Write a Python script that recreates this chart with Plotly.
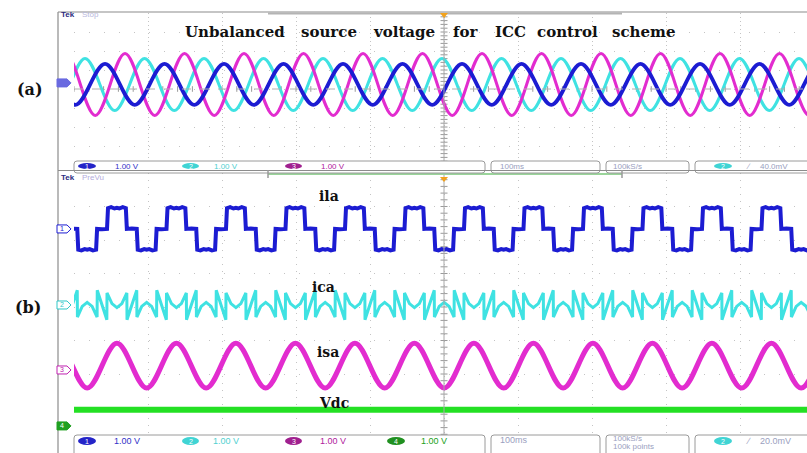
import plotly.graph_objects as go

W, H = 807, 453
GX0 = 74                      # left edge of the graticule (px)
PW = W - GX0                  # plot area width (px)

# ---------------- data ----------------
MS_PER_DIV = 100
X_RANGE_MS = [0, 990.5]       # the screenshot is cut just before the 10th division
PERIOD_MS = 80.4              # one fundamental cycle (59.5 px)
# start of each positive plateau of ila (cycle reference), ms
cycle_start_ms = [-116.2, -35.8, 44.6, 125.0, 205.4, 285.8, 366.2, 446.6,
                  527.0, 607.4, 687.8, 768.2, 848.6, 929.0, 1009.4, 1089.8]

# (a) unbalanced source voltages, 1.00 V/div (cyan, blue, magenta)
src_peak_deg = [227, -12, 109]
src_amp_div = [1.37, 1.08, 1.63]
src_offset_div = [0.24, 0.24, 0.24]

# (b) ila (ch1): one cycle of the stepped load current
ila_offset_div = 2.33
ila_deg = [0, 6, 25, 45, 60, 75, 95, 114, 120, 150, 180, 186, 205, 225, 240, 255, 275, 294, 300, 330]
ila_div = [0, 0.62, 0.65, 0.61, 0.63, 0.61, 0.65, 0.62, 0, 0.01, 0, -0.62, -0.64, -0.60, -0.62, -0.60, -0.64, -0.62, 0, -0.01]

# ica (ch2): one cycle of the compensating current
ica_offset_div = 0.06
ica_deg = [0, 30, 60, 90, 120, 121, 150, 180, 181, 210, 240, 270, 300, 301, 330, 359]
ica_div = [0.36, 0.04, -0.08, 0.04, 0.36, -0.44, 0.0, 0.44, -0.36, -0.04, 0.08, -0.04, -0.36, 0.44, 0.0, -0.44]

# isa (ch3): sinusoidal source current
isa_peak_deg = 60
isa_amp_div = 0.67
isa_offset_div = -1.75

# Vdc (ch4)
vdc_div = -3.07

# channel ground markers (div)
ch_marker_div = [2.33, 0.06, -1.88, -3.55]
top_marker_div = 0.32

# ---------------- geometry helpers ----------------
TOP_PX = (13, 165)            # panel (a) graticule, px
BOT_PX = (173, 441)           # panel (b) graticule, px


def X(x):
    return (x - GX0) / PW


def Y(y):
    return 1 - y / H


def bot_px(div):
    c = (BOT_PX[0] + BOT_PX[1]) / 2
    return c - div * (BOT_PX[1] - BOT_PX[0]) / 8


def top_px(div):
    c = (TOP_PX[0] + TOP_PX[1]) / 2
    return c - div * (TOP_PX[1] - TOP_PX[0]) / 8


def sine_extremes(peak_deg, amp, offset):
    pts = []
    for c in cycle_start_ms:
        tp = c + peak_deg / 360 * PERIOD_MS
        pts.append((tp, offset + amp))
        pts.append((tp + PERIOD_MS / 2, offset - amp))
    pts.sort()
    return [p[0] for p in pts], [p[1] for p in pts]


def tiled(pdeg, pval, offset):
    xs, ys = [], []
    for c in cycle_start_ms:
        for d, v in zip(pdeg, pval):
            xs.append(c + d / 360 * PERIOD_MS)
            ys.append(offset + v)
    return xs, ys


BLUE = "#1c1cd2"
CYAN = "#3fe2e2"
MAG = "#e22ccf"
GREEN = "#24e024"
GRID = "#c4c4c4"
FRAME = "#8c8c8c"

fig = go.Figure()

# centre-cross tick marks
tick_y = [i / 5 for i in range(-20, 21)]
tick_x = [i * 20 for i in range(0, 50)]
for xa, ya in (("x", "y"), ("x2", "y2")):
    fig.add_trace(go.Scatter(x=[500] * len(tick_y), y=tick_y, mode="markers", xaxis=xa, yaxis=ya,
                             marker=dict(symbol="line-ew", size=5, line=dict(width=1, color="#9a9a9a")),
                             hoverinfo="skip", showlegend=False))
fig.add_trace(go.Scatter(x=tick_x, y=[0] * len(tick_x), mode="markers", xaxis="x", yaxis="y",
                         marker=dict(symbol="line-ns", size=4, line=dict(width=1, color="#9a9a9a")),
                         hoverinfo="skip", showlegend=False))

# (a) source voltages
for k, col, wd in ((0, CYAN, 3), (2, MAG, 3), (1, BLUE, 3.8)):
    xs, ys = sine_extremes(src_peak_deg[k], src_amp_div[k], src_offset_div[k])
    fig.add_trace(go.Scatter(x=xs, y=ys, mode="lines", xaxis="x", yaxis="y",
                             line=dict(color=col, width=wd, shape="spline", smoothing=1),
                             hoverinfo="skip", showlegend=False))

# (b) ila
xs, ys = tiled(ila_deg, ila_div, ila_offset_div)
fig.add_trace(go.Scatter(x=xs, y=ys, mode="lines", xaxis="x2", yaxis="y2",
                         line=dict(color=BLUE, width=4), hoverinfo="skip", showlegend=False))
# ica
xs, ys = tiled(ica_deg, ica_div, ica_offset_div)
fig.add_trace(go.Scatter(x=xs, y=ys, mode="lines", xaxis="x2", yaxis="y2",
                         line=dict(color=CYAN, width=3), hoverinfo="skip", showlegend=False))
# isa
xs, ys = sine_extremes(isa_peak_deg, isa_amp_div, isa_offset_div)
fig.add_trace(go.Scatter(x=xs, y=ys, mode="lines", xaxis="x2", yaxis="y2",
                         line=dict(color=MAG, width=5, shape="spline", smoothing=1),
                         hoverinfo="skip", showlegend=False))
# Vdc
fig.add_trace(go.Scatter(x=X_RANGE_MS, y=[vdc_div, vdc_div], mode="lines", xaxis="x2", yaxis="y2",
                         line=dict(color=GREEN, width=6), hoverinfo="skip", showlegend=False))

# ---------------- decorations ----------------
shapes = []
ann = []


def line(x0, y0, x1, y1, color=FRAME, width=1.2, dash="solid"):
    shapes.append(dict(type="line", xref="paper", yref="paper", x0=X(x0), y0=Y(y0), x1=X(x1), y1=Y(y1),
                       line=dict(color=color, width=width, dash=dash)))


def rbox(x0, y0, x1, y1, r=3, color="#9a9a9a", fill="white"):
    p = (f"M {X(x0 + r)},{Y(y0)} L {X(x1 - r)},{Y(y0)} Q {X(x1)},{Y(y0)} {X(x1)},{Y(y0 + r)} "
         f"L {X(x1)},{Y(y1 - r)} Q {X(x1)},{Y(y1)} {X(x1 - r)},{Y(y1)} L {X(x0 + r)},{Y(y1)} "
         f"Q {X(x0)},{Y(y1)} {X(x0)},{Y(y1 - r)} L {X(x0)},{Y(y0 + r)} Q {X(x0)},{Y(y0)} {X(x0 + r)},{Y(y0)} Z")
    shapes.append(dict(type="path", xref="paper", yref="paper", path=p, fillcolor=fill,
                       line=dict(color=color, width=1)))


def text(x, y, s, size=9, color="#9aa0c0", family="Liberation Sans", anchor="left", bold=False):
    if bold:
        s = "<b>" + s + "</b>"
    ann.append(dict(x=X(x), y=Y(y), xref="paper", yref="paper", text=s, showarrow=False,
                    xanchor=anchor, yanchor="middle", font=dict(family=family, size=size, color=color)))


def badge(x0, x1, yc, h, fill, label):
    shapes.append(dict(type="circle", xref="paper", yref="paper", x0=X(x0), x1=X(x1),
                       y0=Y(yc + h / 2), y1=Y(yc - h / 2), fillcolor=fill, line=dict(width=0)))
    text((x0 + x1) / 2, yc, label, size=7, color="white", anchor="center")


def tag(yc, color, label, filled=False):
    p = (f"M {X(57)},{Y(yc - 4)} L {X(67)},{Y(yc - 4)} L {X(71)},{Y(yc)} L {X(67)},{Y(yc + 4)} "
         f"L {X(57)},{Y(yc + 4)} Z")
    shapes.append(dict(type="path", xref="paper", yref="paper", path=p,
                       fillcolor=color if filled else "white", line=dict(color=color, width=1)))
    if label:
        text(62, yc, label, size=7, color="white" if filled else color, anchor="center")


# centre lines
line(444, TOP_PX[0], 444, TOP_PX[1] + 2, color="#a8a8a8", width=1)
line(444, BOT_PX[0], 444, BOT_PX[1], color="#a8a8a8", width=1)
line(GX0, top_px(0), W, top_px(0), color="#b0b0b0", width=1, dash="dash")

# frames
line(58, 12, W, 12)
line(58, 12, 58, H)
# record-view bars
line(268, 13.5, 622, 13.5, color="#b4b4b4", width=2)
line(268, 174, 622, 174, color="#9ad49a", width=2)

# trigger position markers
for yy in (13, 177):
    shapes.append(dict(type="path", xref="paper", yref="paper",
                       path=f"M {X(440)},{Y(yy)} L {X(448)},{Y(yy)} L {X(444)},{Y(yy + 5)} Z",
                       fillcolor="#f2a21c", line=dict(width=0)))

# channel markers
tag(top_px(top_marker_div), "#6a6ae0", "", filled=True)
tag(bot_px(ch_marker_div[0]), BLUE, "1")
tag(bot_px(ch_marker_div[1]), "#30c8c8", "2")
tag(bot_px(ch_marker_div[2]), "#c020b0", "3")
tag(bot_px(ch_marker_div[3]), "#20a020", "4", filled=True)

# status bars
for (yc, h, y0, y1, trig, chs) in ((166, 6, 161, 173, "40.0mV", 3), (441, 8, 435, 458, "20.0mV", 4)):
    rbox(74, y0, 485, y1)
    rbox(491, y0, 600, y1)
    rbox(606, y0, 689, y1)
    rbox(695, y0, 820, y1)
    cfg = [(78, 96, "#2424c8", "#3030c8", 127), (182, 199, "#40d4d4", "#50d0d0", 226),
           (285, 302, "#a0208f", "#b0209c", 333), (387, 405, "#209020", "#20a020", 434)]
    for i in range(chs):
        b0, b1, bf, tc, tx = cfg[i]
        badge(b0, b1, yc, h, bf, str(i + 1))
        text(tx, yc, "1.00 V", size=9 if chs == 4 else 8, color=tc, anchor="center")
    if chs == 4:
        text(498, yc - 1, "100ms")
        text(611, yc - 2.5, "100kS/s", size=8)
        text(611, yc + 5.5, "100k points", size=8)
    else:
        text(498, yc, "100ms", size=8)
        text(611, yc, "100kS/s", size=8)
    badge(714, 732, yc, h, "#40d4d4", "2")
    text(744, yc, "∕", size=9 if chs == 4 else 8)
    text(758, yc, trig, size=9 if chs == 4 else 8)

# frame line between the panels (cuts the top status bar)
line(58, 170.5, W, 170.5)
for xx in (268, 622):
    line(xx, 170, xx, 178, color="#9a9a9a", width=1.5)

# Tek headers
text(59, 14.5, "Tek", size=8, color="#2c2c80", bold=True)
text(80, 14.5, "Stop", size=8, color="#b8b8dc")
text(59, 177, "Tek", size=8, color="#2c2c80", bold=True)
text(80, 177, "PreVu", size=8, color="#b4acdc")

# title, words placed where they sit on the screen
serif = "DejaVu Serif"
for word, xc in (("Unbalanced", 235), ("source", 329), ("voltage", 404), ("for", 465),
                 ("ICC", 510), ("control", 567), ("scheme", 643)):
    text(xc, 32, word, size=15, color="#111111", family=serif, anchor="center", bold=True)

# panel labels
text(30, 89, "(a)", size=16, color="#111111", family=serif, anchor="center", bold=True)
text(28, 307, "(b)", size=16, color="#111111", family=serif, anchor="center", bold=True)

# trace labels
for s, xc, yc in (("ila", 329, 196), ("ica", 323, 287), ("isa", 328, 352), ("Vdc", 334, 403)):
    text(xc, yc, s, size=14, color="#111111", family=serif, anchor="center", bold=True)

axis_common = dict(showticklabels=False, ticks="", zeroline=False, showline=False, showgrid=True,
                   gridcolor=GRID, gridwidth=1, fixedrange=True)
fig.update_layout(
    width=W, height=H,
    margin=dict(l=GX0, r=0, t=0, b=0, pad=0),
    paper_bgcolor="white", plot_bgcolor="white",
    showlegend=False,
    xaxis=dict(domain=[0, 1], range=X_RANGE_MS, anchor="y", dtick=MS_PER_DIV, tick0=0,
               griddash="1px,3px", **axis_common),
    yaxis=dict(domain=[Y(TOP_PX[1]), Y(TOP_PX[0])], range=[-4, 4], anchor="x", dtick=1, tick0=0,
               griddash="1px,14px", **axis_common),
    xaxis2=dict(domain=[0, 1], range=X_RANGE_MS, anchor="y2", dtick=MS_PER_DIV, tick0=0,
                griddash="1px,6px", **axis_common),
    yaxis2=dict(domain=[Y(BOT_PX[1]), Y(BOT_PX[0])], range=[-4, 4], anchor="x2", dtick=1, tick0=0,
                griddash="1px,14px", **axis_common),
    shapes=shapes,
    annotations=ann,
)

fig.write_html("out.html")
